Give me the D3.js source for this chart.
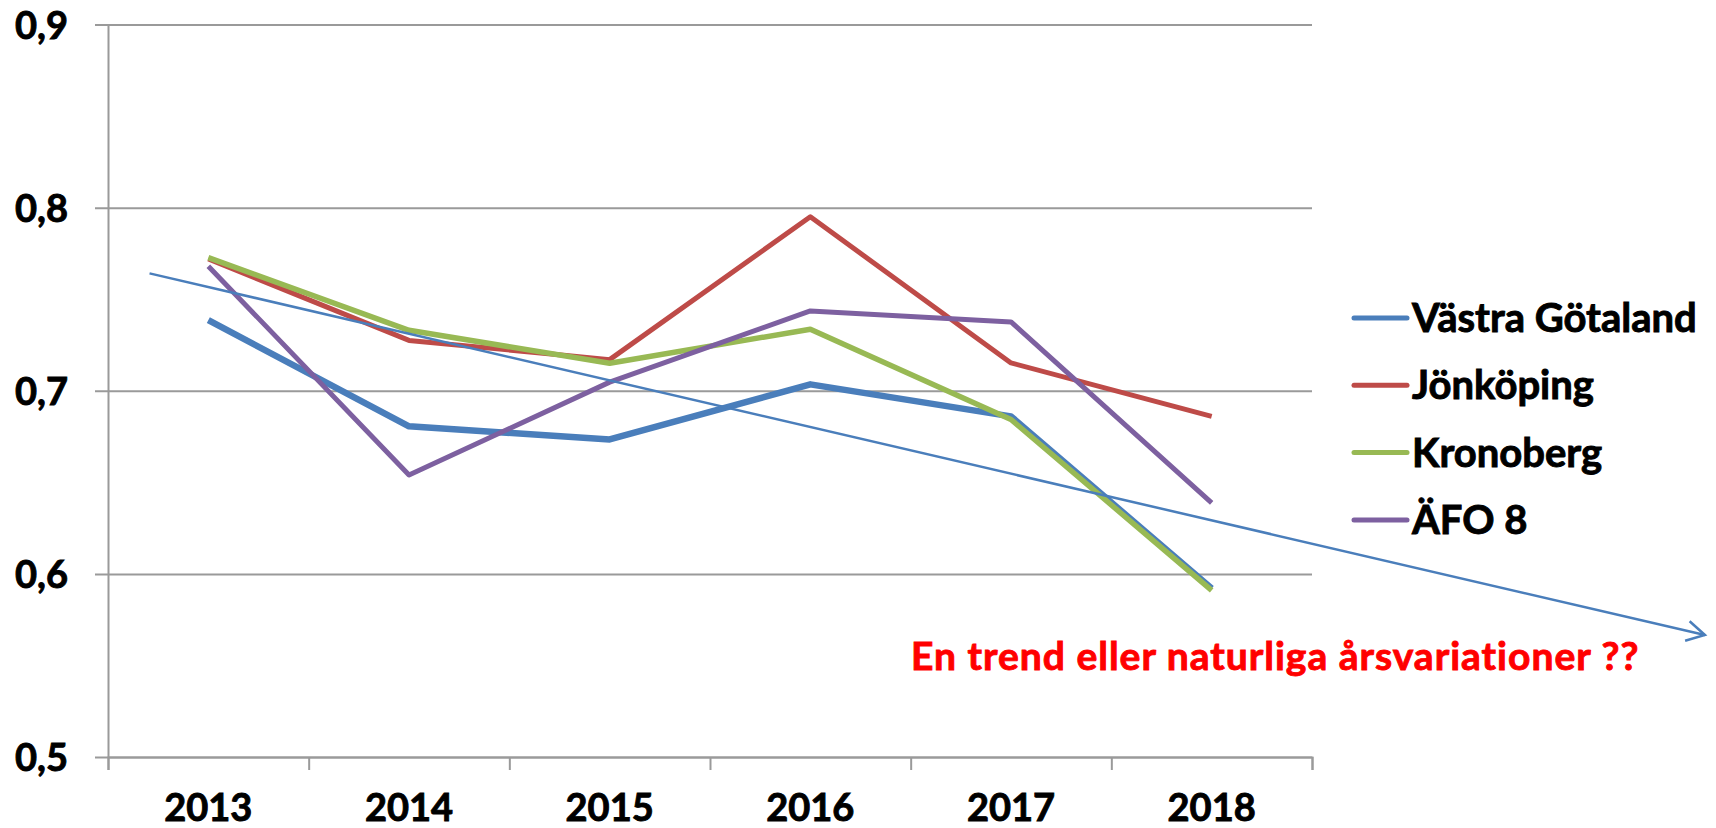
<!DOCTYPE html>
<html>
<head>
	<meta charset="UTF-8">
	<title>ÄFO 8</title>
	<script src="https://d3js.org/d3.v7.min.js"></script>
	<style type="text/css">
		body { margin: 0; background: #fff; }
		svg { display: block; font-family: Lato, "Open Sans", sans-serif; font-weight: bold; }
		svg text { stroke-width: 0.9px; }
		.grid line { stroke: #8a8a8a; stroke-width: 2; }
		.axis path, .axis line { stroke: #9a9a9a; stroke-width: 2; fill: none; }
		.series { fill: none; stroke-linejoin: round; }
	</style>
</head>
<body>
<script type="text/javascript">

	// ===== DATA =====
	var years = ["2013", "2014", "2015", "2016", "2017", "2018"];
	var yTicks = [0.5, 0.6, 0.7, 0.8, 0.9];

	var seriesNames = ["Västra Götaland", "Jönköping", "Kronoberg", "ÄFO 8"];
	var vastraGotaland = [0.7385, 0.6806, 0.6734, 0.7035, 0.686, 0.592];
	var jonkoping      = [0.772, 0.7275, 0.717, 0.795, 0.7152, 0.686];
	var kronoberg      = [0.7727, 0.733, 0.715, 0.7336, 0.6843, 0.591];
	var afo8           = [0.768, 0.654, 0.7047, 0.7436, 0.7376, 0.6388];

	// trend arrow, x in category index units (0 = 2013)
	var trendX = [-0.293, 7.458];
	var trendY = [0.7641, 0.5666];
	var note = "En trend eller naturliga årsvariationer ??";

	var colors = ["#4A7EBB", "#BE4B48", "#98B954", "#7D60A0"];
	var widths = [6.5, 5, 5.5, 5];

	var margin = {top: 24.5, left: 108},
		width = 1204,
		height = 732.5;

	var svg = d3.select("body").append("svg")
		.attr("width", 1716)
		.attr("height", 828);

	var g = svg.append("g")
		.attr("transform", "translate(" + margin.left + "," + margin.top + ")");

	//===== SCALES =====
	var x = d3.scaleLinear().domain([-0.5, 5.5]).range([0, width]);
	var y = d3.scaleLinear().domain([0.5, 0.9]).range([height, 0]);

	//===== Y axis + gridlines =====
	var yAxis = d3.axisLeft(y)
		.tickValues(yTicks)
		.tickSizeOuter(0)
		.tickFormat(function(d) { return d3.format(".1f")(d).replace(".", ","); });

	var gy = g.append("g").attr("class", "axis grid").call(yAxis);
	gy.selectAll(".tick line").attr("x1", -13).attr("x2", width);
	gy.selectAll(".tick text")
		.attr("x", -40)
		.attr("dy", "0.36em")
		.attr("fill", "#000")
		.attr("stroke", "#000")
		.style("font-size", "38px")
		.style("font-family", "Lato, sans-serif")
		.style("font-weight", "bold");

	//===== X axis =====
	var xAxis = d3.axisBottom(x)
		.tickValues(d3.range(-0.5, 6, 1))
		.tickSize(13)
		.tickFormat("");

	g.append("g")
		.attr("class", "axis")
		.attr("transform", "translate(0," + height + ")")
		.call(xAxis);

	g.selectAll(".year")
		.data(years)
		.enter().append("text")
		.attr("class", "year")
		.attr("x", function(d, i) { return x(i); })
		.attr("y", height + 64)
		.attr("text-anchor", "middle")
		.attr("stroke", "#000")
		.style("font-size", "38px")
		.text(function(d) { return d; });

	//===== LINES =====
	var line = d3.line()
		.x(function(d, i) { return x(i); })
		.y(function(d) { return y(d); });

	var allSeries = [vastraGotaland, jonkoping, kronoberg, afo8];

	g.selectAll(".series")
		.data(allSeries)
		.enter().append("path")
		.attr("class", "series")
		.attr("stroke", function(d, i) { return colors[i]; })
		.attr("stroke-width", function(d, i) { return widths[i]; })
		.attr("d", line);

	//===== TREND ARROW =====
	svg.append("defs").append("marker")
		.attr("id", "arrow")
		.attr("markerUnits", "userSpaceOnUse")
		.attr("viewBox", "-22 -13 26 26")
		.attr("markerWidth", 26)
		.attr("markerHeight", 26)
		.attr("refX", 0)
		.attr("refY", 0)
		.attr("orient", "auto")
		.append("path")
		.attr("d", "M-18,-10L0,0L-18,10")
		.attr("fill", "none")
		.attr("stroke", colors[0])
		.attr("stroke-width", 2.5);

	g.append("path")
		.attr("d", d3.line()([[x(trendX[0]), y(trendY[0])], [x(trendX[1]), y(trendY[1])]]))
		.attr("fill", "none")
		.attr("stroke", colors[0])
		.attr("stroke-width", 2.5)
		.attr("marker-end", "url(#arrow)");

	svg.append("text")
		.attr("x", 911)
		.attr("y", 670)
		.attr("fill", "#FF0000")
		.attr("stroke", "#FF0000")
		.style("font-size", "39px")
		.style("letter-spacing", "1px")
		.text(note);

	//===== LEGEND =====
	var legend = svg.append("g").attr("transform", "translate(1354,318)");
	var item = legend.selectAll(".item")
		.data(seriesNames)
		.enter().append("g")
		.attr("transform", function(d, i) { return "translate(0," + (i * 67.3) + ")"; });

	item.append("line")
		.attr("x1", 0).attr("x2", 53)
		.attr("stroke", function(d, i) { return colors[i]; })
		.attr("stroke-width", 5)
		.attr("stroke-linecap", "round");

	item.append("text")
		.attr("x", 58)
		.attr("y", 14)
		.attr("stroke", "#000")
		.style("font-size", "40px")
		.text(function(d) { return d; });

</script>
</body>
</html>
